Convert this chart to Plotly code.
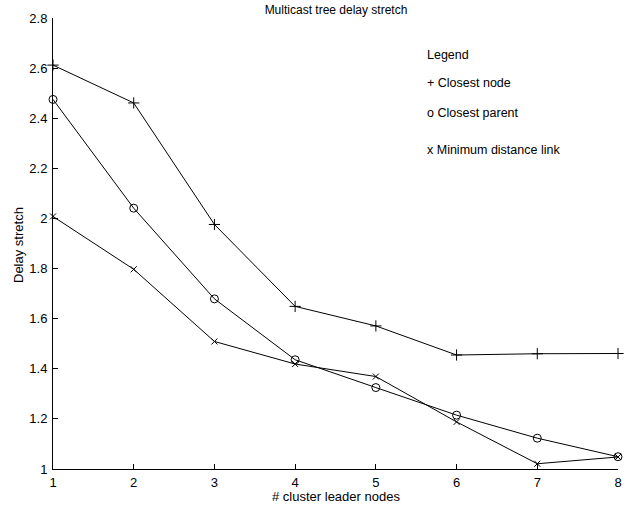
import plotly.graph_objects as go

x_nodes = [1, 2, 3, 4, 5, 6, 7, 8]
closest_node = [2.612, 2.461, 1.976, 1.649, 1.571, 1.455, 1.460, 1.461]
closest_parent = [2.475, 2.041, 1.679, 1.436, 1.325, 1.215, 1.123, 1.049]
min_dist_link = [2.008, 1.797, 1.509, 1.419, 1.369, 1.188, 1.021, 1.048]
x_ticks = [1, 2, 3, 4, 5, 6, 7, 8]
y_ticks = [1, 1.2, 1.4, 1.6, 1.8, 2, 2.2, 2.4, 2.6, 2.8]
y_tick_text = ["1", "1.2", "1.4", "1.6", "1.8", "2", "2.2", "2.4", "2.6", "2.8"]
legend_lines = ["Legend", "+ Closest node", "o Closest parent", "x Minimum distance link"]

FONT = "Liberation Sans, Arial, Helvetica, sans-serif"

fig = go.Figure()
series = [
    (closest_node, "cross-thin-open", 8, "Closest node"),
    (closest_parent, "circle-open", 8, "Closest parent"),
    (min_dist_link, "x-thin-open", 6, "Minimum distance link"),
]
for ys, sym, sz, name in series:
    fig.add_trace(go.Scatter(
        x=x_nodes, y=ys, mode="lines+markers", name=name,
        line=dict(color="black", width=1),
        marker=dict(symbol=sym, size=sz, color="black", line=dict(color="black", width=1)),
        showlegend=False, cliponaxis=False,
    ))

W, H = 629, 507
ml, mr, mt, mb = 53, 11, 18, 38
pw, ph = W - ml - mr, H - mt - mb
legend_y_px = [55, 83, 113, 150]
for txt, ypx in zip(legend_lines, legend_y_px):
    fig.add_annotation(
        text=txt, xref="paper", yref="paper",
        x=(425 - ml) / pw, y=1 - (ypx - mt) / ph,
        xanchor="left", yanchor="middle", showarrow=False,
        font=dict(family=FONT, size=12.5, color="black"),
    )

# axis titles as annotations positioned in pixels
fig.add_annotation(
    text="# cluster leader nodes", xref="paper", yref="paper",
    x=(336 - ml) / pw, y=-(497 - (H - mb)) / ph,
    xanchor="center", yanchor="middle", showarrow=False,
    font=dict(family=FONT, size=13, color="black"),
)
fig.add_annotation(
    text="Delay stretch", xref="paper", yref="paper",
    x=-(ml - 18) / pw, y=1 - (245 - mt) / ph, textangle=-90,
    xanchor="center", yanchor="middle", showarrow=False,
    font=dict(family=FONT, size=13, color="black"),
)

fig.update_layout(
    width=W, height=H,
    margin=dict(l=ml, r=mr, t=mt, b=mb, autoexpand=False),
    paper_bgcolor="white", plot_bgcolor="white",
    font=dict(family=FONT, size=13, color="black"),
    title=dict(text="Multicast tree delay stretch", x=336 / W, xanchor="center",
               y=1 - 10 / H, yanchor="middle", font=dict(family=FONT, size=12)),
    xaxis=dict(
        range=[1, 8], tickvals=x_ticks, ticks="inside", ticklen=5, tickcolor="black",
        showline=True, linecolor="black", linewidth=1, showgrid=False, zeroline=False,
        ticklabelstandoff=1, automargin=False,
        tickfont=dict(family=FONT, size=13),
    ),
    yaxis=dict(
        range=[1, 2.8], tickvals=y_ticks, ticktext=y_tick_text, ticks="inside", ticklen=5,
        tickcolor="black", showline=True, linecolor="black", linewidth=1,
        showgrid=False, zeroline=False, ticklabelstandoff=2, automargin=False,
        tickfont=dict(family=FONT, size=13),
    ),
)

fig.write_html("out.html")
